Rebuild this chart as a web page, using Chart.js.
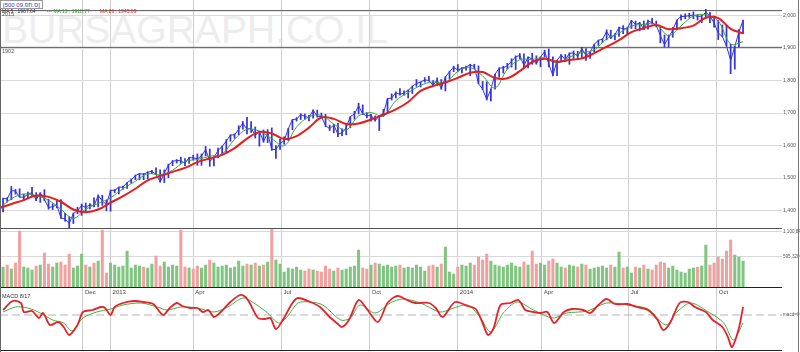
<!DOCTYPE html>
<html><head><meta charset="utf-8">
<script src="https://cdn.jsdelivr.net/npm/chart.js@4.4.1/dist/chart.umd.min.js"></script>
<style>
html,body{margin:0;padding:0;background:#fff;}
#wrap{position:relative;width:800px;height:352px;overflow:hidden;background:#fff;font-family:"Liberation Sans",Arial,sans-serif;}
canvas{position:absolute;left:0;}
.t{position:absolute;white-space:nowrap;line-height:1;}
.ln{position:absolute;}
</style></head><body>
<div id="wrap">
 <div class="t" style="left:2px;top:10px;font-size:39px;color:#ededed;">BURSAGRAPH.CO.IL</div>
 <canvas id="cp" width="800" height="228" style="top:0"></canvas>
 <canvas id="cv" width="800" height="59" style="top:228px"></canvas>
 <canvas id="cm" width="800" height="65" style="top:287px"></canvas>
 <div class="ln" style="left:0;top:228px;width:782px;height:1px;background:#555"></div>
 <div class="ln" style="left:0;top:287px;width:782px;height:1px;background:#222"></div>
 <div class="ln" style="left:0;top:350px;width:782px;height:1px;background:#222"></div>
 <div class="ln" style="left:0;top:0;width:1px;height:352px;background:#666"></div>
 <div class="ln" style="left:798px;top:0;width:1px;height:352px;background:#777"></div>
 <div class="t" style="left:0;top:0;height:6px;padding:1px 2px 0 2px;border:1px solid #999;font-size:6px;color:#3a3aa8;background:#fff;">[500 ס.תפ.09]</div>
 <div class="t" style="left:2px;top:9px;font-size:5px;color:#333;">MA 5 : 1967.64</div>
 <div class="t" style="left:47px;top:9px;font-size:5px;color:#2e9a2e;">--- MA 13 : 1918.77</div>
 <div class="t" style="left:100px;top:9px;font-size:5px;color:#e02020;">MA 26 : 1945.09</div>
 <div class="t" style="left:2px;top:294px;font-size:5.5px;color:#333;">MACD 8/17</div>
</div>
<script>
// ---- data (x = trading-day index, 0 = first bar, Sep 2012); each point covers 3 sessions ----
const FIRST = 2, STEP = 3;
const closes = [1437,1436,1461,1460,1441,1441,1450,1455,1433,1454,
 1433,1409,1412,1417,1377,1374,1360,1391,1399,1416,
 1409,1418,1414,1446,1430,1418,1462,1462,1472,1472,
 1486,1494,1508,1513,1512,1518,1521,1511,1488,1515,
 1540,1551,1554,1553,1545,1563,1562,1559,1568,1588,
 1552,1562,1585,1597,1614,1632,1633,1650,1669,1649,
 1654,1631,1643,1612,1639,1588,1588,1606,1615,1652,
 1680,1681,1695,1690,1685,1709,1690,1689,1661,1652,
 1663,1635,1639,1655,1689,1697,1722,1697,1691,1694,
 1676,1692,1698,1744,1746,1763,1757,1762,1770,1782,
 1791,1795,1802,1800,1785,1802,1775,1811,1827,1841,
 1832,1838,1842,1848,1843,1790,1774,1742,1773,1819,
 1838,1839,1845,1859,1873,1877,1846,1872,1866,1852,
 1872,1889,1851,1815,1862,1879,1863,1884,1885,1875,
 1898,1877,1888,1911,1924,1927,1951,1930,1941,1963,
 1959,1960,1985,1972,1977,1958,1983,1978,1970,1938,
 1910,1933,1955,1986,1997,1997,2000,2001,1997,1998,
 2010,1998,1977,1946,1935,1906,1862,1904,1950,1985];
const highs = [1438,1440,1474,1465,1467,1450,1457,1471,1455,1455,
 1464,1435,1421,1429,1434,1391,1381,1392,1410,1420,
 1423,1421,1439,1448,1447,1431,1463,1465,1472,1475,
 1486,1497,1509,1514,1514,1519,1524,1531,1525,1525,
 1543,1554,1557,1564,1560,1564,1570,1574,1574,1597,
 1589,1565,1592,1598,1618,1633,1636,1661,1674,1687,
 1674,1657,1645,1648,1649,1654,1600,1620,1627,1653,
 1680,1686,1698,1697,1693,1710,1709,1700,1696,1663,
 1665,1669,1651,1664,1689,1705,1730,1725,1701,1696,
 1691,1693,1711,1745,1759,1765,1775,1768,1771,1783,
 1803,1796,1809,1813,1800,1808,1803,1812,1829,1844,
 1849,1840,1844,1850,1850,1845,1797,1796,1774,1820,
 1839,1844,1853,1867,1876,1883,1882,1873,1884,1876,
 1873,1893,1897,1873,1863,1880,1880,1885,1891,1890,
 1902,1898,1889,1912,1924,1929,1956,1955,1944,1964,
 1969,1964,1985,1983,1979,1983,1986,1991,1983,1965,
 1940,1940,1964,1987,2002,2005,2007,2011,2001,2000,
 2019,2010,1998,1985,1971,1970,1912,1905,1957,1986];
const lows = [1396,1426,1433,1450,1441,1430,1438,1446,1430,1425,
 1430,1404,1403,1408,1376,1367,1343,1360,1390,1385,
 1398,1405,1411,1411,1416,1399,1398,1455,1451,1465,
 1468,1484,1495,1495,1495,1497,1513,1510,1487,1486,
 1501,1538,1546,1545,1538,1545,1556,1539,1539,1568,
 1536,1537,1562,1575,1581,1613,1622,1633,1650,1636,
 1640,1623,1598,1610,1609,1585,1560,1588,1604,1615,
 1649,1675,1680,1681,1676,1684,1687,1684,1658,1646,
 1639,1627,1630,1633,1655,1681,1697,1695,1685,1675,
 1675,1646,1690,1700,1740,1746,1755,1755,1746,1760,
 1782,1780,1795,1798,1783,1785,1773,1768,1804,1827,
 1828,1823,1832,1815,1836,1790,1772,1740,1737,1773,
 1810,1823,1835,1841,1834,1867,1839,1839,1850,1850,
 1842,1873,1842,1814,1815,1858,1859,1850,1868,1866,
 1868,1862,1868,1888,1908,1916,1925,1929,1925,1936,
 1944,1944,1960,1959,1953,1956,1958,1974,1965,1916,
 1904,1904,1933,1956,1986,1990,1994,1990,1986,1978,
 1993,1978,1964,1926,1935,1906,1821,1835,1904,1944];
const volumes = [396000,435600,356400,475200,1108800,396000,376200,336600,415800,435600,
 673200,455400,396000,475200,495000,435600,653400,376200,415800,653400,
 435600,396000,475200,514800,1128600,277200,475200,435600,396000,415800,
 712800,376200,435600,415800,396000,376200,455400,613800,415800,495000,
 396000,435600,415800,1128600,396000,376200,356400,415800,376200,435600,
 534600,475200,396000,415800,435600,376200,396000,514800,415800,455400,
 435600,475200,415800,435600,495000,1148400,534600,455400,297000,376200,
 356400,396000,336600,316800,356400,336600,316800,297000,415800,356400,
 316800,376200,336600,356400,396000,415800,732600,376200,356400,435600,
 475200,455400,415800,435600,396000,415800,435600,376200,396000,376200,
 435600,396000,316800,415800,435600,396000,455400,792000,297000,257400,
 396000,435600,415800,475200,435600,594000,534600,653400,514800,435600,
 415800,396000,435600,475200,415800,396000,495000,435600,712800,455400,
 475200,435600,514800,554400,475200,396000,376200,435600,415800,396000,
 455400,435600,356400,376200,396000,415800,376200,435600,396000,693000,
 376200,396000,277200,396000,376200,435600,356400,336600,435600,495000,
 475200,376200,415800,336600,297000,277200,356400,376200,396000,415800,
 831600,435600,475200,594000,554400,712800,930600,633600,594000,514800];
const MA_FIRST = -1, MA_STEP = 9;
const ma13 = [1405,1436,1451,1445,1432,1404,1376,1404,1422,1439,
 1467,1490,1513,1510,1524,1551,1557,1567,1574,1619,
 1650,1644,1621,1599,1657,1688,1693,1666,1648,1691,
 1701,1690,1738,1763,1785,1796,1793,1828,1840,1814,
 1777,1835,1864,1865,1870,1854,1872,1886,1894,1928,
 1946,1967,1973,1972,1938,1968,1999,2002,1983,1912,1919];
const ma26 = [1407,1420,1432,1446,1442,1427,1403,1395,1403,1424,
 1444,1467,1493,1506,1519,1531,1549,1560,1571,1592,
 1621,1642,1637,1620,1629,1655,1686,1682,1666,1668,
 1680,1695,1711,1734,1768,1783,1794,1808,1824,1826,
 1808,1807,1829,1857,1867,1858,1863,1868,1884,1904,
 1924,1949,1961,1971,1958,1961,1969,1993,1992,1959,1945];
const macdDays = [2,9,15,17,23,28,31,36,42,46,50,56,60,67,73,76,80,83,89,97,
 104,111,118,123,128,132,138,143,147,151,155,160,167,174,178,181,187,192,196,200,
 205,212,216,225,232,239,245,248,253,260,266,274,281,288,295,301,311,316,321,330,
 339,345,350,354,358,363,370,376,381,387,392,397,402,409,415,423,428,434,440,446,
 455,462,470,477,481,486,493,499,504,512,517,524,528,531,536,539];
const macdVals = [5,14,12,3,4,-3,2,-10,-7,-12,-20,-10,3,5,8,7,0,8,12,14,
 13,11,0,7,12,9,7,7,3,5,-2,3,13,20,18,12,-3,-4,-3,-14,
 -5,12,17,13,8,-2,-9,-12,-5,15,6,-7,12,19,15,12,12,7,-2,13,
 9,6,-8,-20,-13,10,12,15,5,3,2,3,-8,3,6,5,2,10,16,11,
 11,8,5,-5,-15,-8,12,13,8,3,-5,-12,-22,-32,-13,8];
const sigDays = [2,11,20,29,38,46,52,60,70,80,89,102,114,121,131,143,155,165,176,184,
 194,202,208,216,225,234,247,254,261,272,283,292,305,319,327,339,348,356,365,375,
 387,401,411,426,440,455,470,483,491,501,515,525,532,539];
const sigVals = [3,8,7,2,-5,-8,-16,-3,3,6,10,12,8,5,8,7,3,8,17,12,
 2,-8,-2,12,13,10,-5,-3,10,2,12,16,12,3,6,10,-2,-17,2,13,
 5,-3,2,4,12,10,6,-10,3,12,2,-8,-25,-8];
const monthTicks = [60,80,140,204,268,332,393,456,520];
const monthLabels = ['Dec','2013','Apr','Jul','Oct','2014','Apr','Jul','Oct'];
const priceTicks = [1400,1500,1600,1700,1800,1900,2000];
const levels = [2015,1902];
const volTicks = [595320,1100840];

// ---- layout / style ----
const X_MIN = -0.23, X_MAX = 567.27;
const FONT = '"Liberation Sans", Arial, sans-serif';
Chart.defaults.font.family = FONT;
const BLUE = '#3535dc', GREEN_V = '#80c680', RED_V = '#f2a0a0';

function xAxis(){
  return {type:'linear', min:X_MIN, max:X_MAX, offset:false,
    afterBuildTicks: s => { s.ticks = monthTicks.map(v => ({value:v})); },
    grid:{color:'#cdcdcd', lineWidth:1, drawTicks:false, offset:false},
    border:{display:false}, ticks:{display:false}};
}
function yAxis(min, max, ticks, fmt, gridOn, size){
  return {position:'right', min, max,
    afterBuildTicks: s => { s.ticks = ticks.map(v => ({value:v})); },
    afterFit: s => { s.width = 18; s.paddingTop = 0; s.paddingBottom = 0; },
    grid:{display:gridOn, color:'#d9d9d9', drawTicks:false},
    border:{display:false},
    ticks:{padding:1, color:'#555', font:{size:size, family:FONT}, callback:fmt}};
}
const base = {responsive:false, animation:false, devicePixelRatio:1,
  plugins:{legend:{display:false}, tooltip:{enabled:false}}};
const fmtNum = v => Number(v).toLocaleString('en-US');
const xOf = i => FIRST + i*STEP;
const pts = (arr, first, step) => arr.map((v,i) => ({x:first+i*step, y:v}));
const pairs = (xs, ys) => xs.map((x,i) => ({x, y:ys[i]}));

// ---- price panel ----
const cp = new Chart(document.getElementById('cp'), {
  type:'line',
  data:{datasets:[
    {data:pts(ma26, MA_FIRST, MA_STEP), borderColor:'#e41e1e', borderWidth:2, pointRadius:0, tension:0.35, order:1},
    {data:pts(ma13, MA_FIRST, MA_STEP), borderColor:'#3aa53a', borderWidth:1, pointRadius:0, tension:0.35, order:2},
    {data:pts(closes, FIRST, STEP), borderColor:BLUE, borderWidth:1, pointRadius:0, tension:0, order:3},
    {type:'bar', data:lows.map((l,i) => ({x:xOf(i), y:[l, highs[i]]})), backgroundColor:BLUE,
      barThickness:1.1, borderWidth:0, order:4},
    ...levels.map(v => ({data:[{x:X_MIN,y:v},{x:X_MAX,y:v}], borderColor:'#555', borderWidth:1, pointRadius:0, order:5}))
  ]},
  options:{...base, layout:{padding:0},
    scales:{x:xAxis(), y:yAxis(1346.2, 2047.7, priceTicks, fmtNum, true, 5.2)}}
});

// ---- volume panel ----
new Chart(document.getElementById('cv'), {
  type:'bar',
  data:{datasets:[{data:pts(volumes, FIRST, STEP),
    backgroundColor: volumes.map((v,i) => (i===0 || closes[i] >= closes[i-1]) ? GREEN_V : RED_V),
    barThickness:2.4, borderWidth:0}]},
  options:{...base, layout:{padding:0},
    scales:{x:xAxis(), y:yAxis(0, 1170000, volTicks, fmtNum, true, 4.6)}}
});

// ---- MACD panel ----
const cm = new Chart(document.getElementById('cm'), {
  type:'line',
  data:{datasets:[
    {data:pairs(macdDays, macdVals), borderColor:'#e8202a', borderWidth:1.8, pointRadius:0, tension:0.3, order:1},
    {data:pairs(sigDays, sigVals), borderColor:'#43b043', borderWidth:1, pointRadius:0, tension:0.3, order:2},
    {data:[{x:X_MIN,y:0},{x:X_MAX,y:0}], borderColor:'#b4b4b4', borderWidth:1, borderDash:[8,4], pointRadius:0, order:3}
  ]},
  options:{...base, layout:{padding:{bottom:2}},
    scales:{x:xAxis(), y:yAxis(-35, 28, [0], () => 'macd=0', false, 4.6)}}
});

// ---- text overlays positioned through the chart scales ----
const wrap = document.getElementById('wrap');
function addText(txt, left, top, size, color){
  const d = document.createElement('div');
  d.className = 't';
  d.textContent = txt;
  d.style.left = left + 'px'; d.style.top = top + 'px';
  d.style.fontSize = size + 'px'; d.style.color = color;
  wrap.appendChild(d);
}
levels.forEach(v => addText(String(v), 2, cp.scales.y.getPixelForValue(v) + 1.5, 5.5, '#555'));
monthTicks.forEach((v,i) => addText(monthLabels[i], cm.scales.x.getPixelForValue(v) + 2, 289, 6, '#444'));
</script>
</body></html>
